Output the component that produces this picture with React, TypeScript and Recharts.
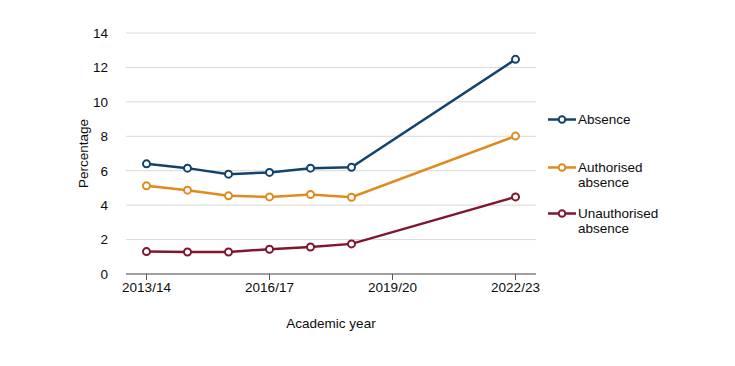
import React from 'react';
import { LineChart, Line, XAxis, YAxis, CartesianGrid, Label } from 'recharts';

const years = ['2013/14', '2014/15', '2015/16', '2016/17', '2017/18', '2018/19', '2019/20', '2020/21', '2021/22', '2022/23'];
const absence: (number | null)[] = [6.4, 6.15, 5.8, 5.9, 6.15, 6.2, null, null, null, 12.47];
const authorised: (number | null)[] = [5.12, 4.87, 4.54, 4.48, 4.62, 4.46, null, null, null, 8.01];
const unauthorised: (number | null)[] = [1.3, 1.28, 1.28, 1.44, 1.57, 1.75, null, null, null, 4.48];
const xTicks = ['2013/14', '2016/17', '2019/20', '2022/23'];
const yTicks = [0, 2, 4, 6, 8, 10, 12, 14];

const data = years.map((y, i) => ({
  year: y,
  absence: absence[i],
  authorised: authorised[i],
  unauthorised: unauthorised[i],
}));

const series = [
  { key: 'absence', name: 'Absence', color: '#12436D', lines: ['Absence'] },
  { key: 'authorised', name: 'Authorised absence', color: '#E08A1E', lines: ['Authorised', 'absence'] },
  { key: 'unauthorised', name: 'Unauthorised absence', color: '#801630', lines: ['Unauthorised', 'absence'] },
];

const FONT = '"Liberation Sans", Arial, sans-serif';

const LegendBox = () => (
  <div
    style={{
      position: 'absolute',
      left: 548,
      top: 112,
      width: 180,
      fontFamily: FONT,
      fontSize: 13.5,
      color: '#0b0c0c',
      lineHeight: '15px',
    }}
  >
    {series.map((s, i) => (
      <div key={s.key} style={{ display: 'flex', alignItems: 'flex-start', marginBottom: i === 0 ? 32.5 : 16.5 }}>
        <svg width={29} height={15} style={{ flex: 'none', marginRight: 1 }}>
          <line x1={0} y1={7.5} x2={28} y2={7.5} stroke={s.color} strokeWidth={2.5} />
          <circle cx={14} cy={7.5} r={3.3} fill="#fff" stroke={s.color} strokeWidth={2} />
        </svg>
        <div>
          {s.lines.map((l) => (
            <div key={l}>{l}</div>
          ))}
        </div>
      </div>
    ))}
  </div>
);

export default function App() {
  return (
    <div style={{ position: 'absolute', left: 0, top: 0, width: 735, height: 366, background: '#fff' }}>
      <LineChart width={735} height={366} data={data} margin={{ top: 33, right: 199, bottom: 0, left: 0 }}>
        <CartesianGrid vertical={false} stroke="#d9d9d9" strokeWidth={1} />
        <XAxis
          dataKey="year"
          ticks={xTicks}
          interval={0}
          padding={{ left: 20.5, right: 20.5 }}
          height={92}
          tickLine={{ stroke: '#555' }}
          axisLine={{ stroke: '#555' }}
          tickSize={6}
          tick={{ fill: '#0b0c0c', fontSize: 13.5, fontFamily: FONT }}
        >
          <Label
            value="Academic year"
            position="insideTop"
            offset={44}
            style={{ fill: '#0b0c0c', fontSize: 13.5, fontFamily: FONT }}
          />
        </XAxis>
        <YAxis
          width={126}
          domain={[0, 14]}
          ticks={yTicks}
          interval={0}
          axisLine={false}
          tickLine={false}
          tickMargin={12}
          tick={{ fill: '#0b0c0c', fontSize: 13.5, fontFamily: FONT }}
        >
          <Label
            value="Percentage"
            angle={-90}
            position="insideLeft"
            offset={83}
            style={{ fill: '#0b0c0c', fontSize: 13.5, fontFamily: FONT, textAnchor: 'middle' }}
          />
        </YAxis>
        {series.map((s) => (
          <Line
            key={s.key}
            type="linear"
            dataKey={s.key}
            name={s.name}
            stroke={s.color}
            strokeWidth={2.5}
            connectNulls
            dot={{ r: 3.5, fill: '#fff', stroke: s.color, strokeWidth: 2 }}
            activeDot={false}
            isAnimationActive={false}
          />
        ))}
      </LineChart>
      <LegendBox />
    </div>
  );
}
